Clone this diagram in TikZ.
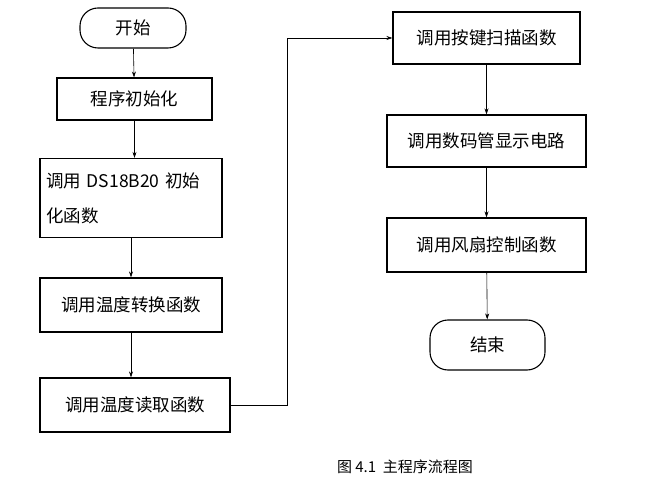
\documentclass[tikz,border=0pt]{standalone}
\usepackage{fontspec}
\setmainfont{Noto Sans CJK SC}
\usetikzlibrary{arrows.meta}
\begin{document}
\begin{tikzpicture}[x=1pt,y=-1pt,
  box/.style={draw,line width=1.1pt,font=\fontsize{17.5}{35}\selectfont,inner sep=0pt},
  term/.style={box,rounded corners=18pt},
  arr/.style={-{Stealth[length=6pt,width=4pt]},line width=0.6pt}]
\useasboundingbox (0,0) rectangle (658,502);
\node[term,minimum width=106,minimum height=40] (s) at (133,28) {开始};
\node[box,minimum width=155,minimum height=42] (a) at (134.5,99) {程序初始化};
\node[box,minimum width=182,minimum height=79,align=left,text width=170] (b) at (131,198) {调用 DS18B20 初始\\化函数};
\node[box,minimum width=182,minimum height=54] (c) at (131,305) {调用温度转换函数};
\node[box,minimum width=190,minimum height=54] (d) at (135,405) {调用温度读取函数};
\node[box,minimum width=187,minimum height=52] (e) at (486.5,38) {调用按键扫描函数};
\node[box,minimum width=199,minimum height=52] (f) at (486.5,141) {调用数码管显示电路};
\node[box,minimum width=199,minimum height=54] (g) at (486.5,245) {调用风扇控制函数};
\node[term,minimum width=115,minimum height=50] (h) at (487.5,345) {结束};
\node[font=\fontsize{15}{16}\selectfont] (cap) at (405,467) {图 4.1\ \ 主程序流程图};
\draw[arr] (s) -- (a);
\draw[arr] (a) -- (a|-b.north);
\draw[arr] (b) -- (b|-c.north);
\draw[arr] (c) -- (c|-d.north);
\draw[arr] (d.east) -- (287,405) -- (287,38) -- (e.west);
\draw[arr] (e) -- (f);
\draw[arr] (f) -- (g);
\draw[arr] (g) -- (h);
\end{tikzpicture}
\end{document}
